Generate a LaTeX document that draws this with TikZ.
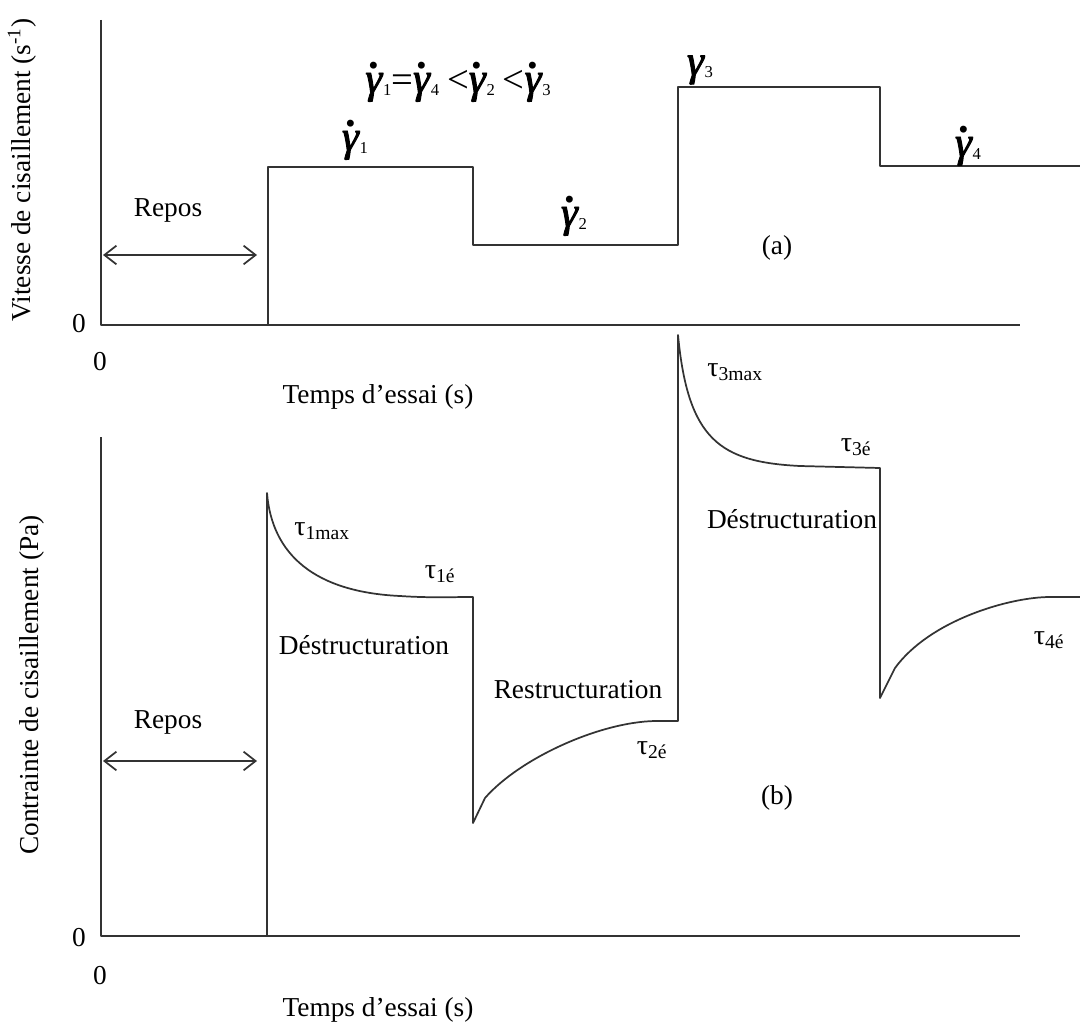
\documentclass[tikz,border=0pt]{standalone}
\usepackage{fontspec}
\setmainfont{Liberation Serif}
\newfontfamily\gfont[FakeBold=2.2]{Liberation Serif}
\usetikzlibrary{arrows.meta}
\newcommand{\gbody}{\gfont\itshape γ}
\newcommand{\gsub}[1]{\kern0.06em\raisebox{-0.4ex}{\fontsize{12.5}{12.5}\selectfont\upshape #1}}
\newcommand{\gdt}[1]{{\fontsize{32}{32}\selectfont\makebox[0pt][l]{\raisebox{0.56em}{\kern0.07em\bfseries .}}\gbody}\gsub{#1}}
\newcommand{\gnd}[1]{{\fontsize{32}{32}\selectfont\gbody}\gsub{#1}}
\newcommand{\rl}[1]{{\fontsize{29}{29}\selectfont #1}}
\begin{document}
\begin{tikzpicture}[x=0.75pt,y=-0.75pt,
  ln/.style={draw=black!80,line width=1.3pt,line join=round},
  lab/.style={font=\fontsize{20.5}{24}\selectfont,inner sep=0pt},
  glab/.style={inner sep=0pt},
  tlab/.style={font=\fontsize{21}{24}\selectfont,inner sep=0pt},
  dbl/.style={draw=black!80,line width=1.3pt,{Straight Barb[length=9pt,width=14pt,line width=1.3pt]}-{Straight Barb[length=9pt,width=14pt,line width=1.3pt]}}]
\useasboundingbox (0,0) rectangle (1080,1027);
% ---------- (a) ----------
\coordinate (ya) at (101,20);
\coordinate (oa) at (101,325);
\coordinate (xa) at (1020,325);
\draw[ln] (ya) -- (oa) -- (xa);
\draw[ln] (268,325) -- (268,167) -- (473,167) -- (473,245) -- (678,245) -- (678,87) -- (880,87) -- (880,166) -- (1080,166);
\coordinate (ra1) at (103,255);
\coordinate (ra2) at (257,255);
\draw[dbl] (ra1) -- (ra2);
\node[lab,rotate=90] (vt) at (22,170) {Vitesse de cisaillement (s\textsuperscript{-1})};
\node[lab] (za) at (79,324) {0};
\node[lab] (zb) at (100,362) {0};
\node[lab] (ta) at (378,397) {Temps d’essai (s)};
\node[lab] (rpa) at (168,210) {Repos};
\node[lab] (aa) at (777,248) {(a)};
\node[glab] (g1) at (355,140) {\gdt{1}};
\node[glab] (g2) at (574,216) {\gdt{2}};
\node[glab] (g3) at (700,70) {\gnd{3}};
\node[glab] (g4) at (968,146) {\gdt{4}};
\node[glab] (rel) at (458,82) {\gdt{1}\rl{=}\gdt{4}\kern6pt\rl{<}\gdt{2}\kern6pt\rl{<}\gdt{3}};
% ---------- (b) ----------
\coordinate (yb) at (101,437);
\coordinate (ob) at (101,936);
\coordinate (xb) at (1020,936);
\draw[ln] (yb) -- (ob) -- (xb);
\draw[ln] (267,936) -- (267,493)
  .. controls (272,555) and (315,592) .. (400,596)
  .. controls (430,598) and (450,597) .. (473,597)
  -- (473,823) -- (485,798)
  .. controls (520,758) and (600,722) .. (655,721) -- (678,721)
  -- (678,335)
  .. controls (688,440) and (720,462) .. (800,466) -- (880,468)
  -- (880,698) -- (895,668)
  .. controls (930,620) and (1010,597) .. (1050,597) -- (1080,597);
\coordinate (rb1) at (103,761);
\coordinate (rb2) at (257,761);
\draw[dbl] (rb1) -- (rb2);
\node[lab,rotate=90] (ct) at (32,685) {Contrainte de cisaillement (Pa)};
\node[lab] (zc) at (79,938) {0};
\node[lab] (zd) at (100,976) {0};
\node[lab] (tb) at (378,1010) {Temps d’essai (s)};
\node[lab] (rpb) at (168,722) {Repos};
\node[lab] (bb) at (777,798) {(b)};
\node[lab] (d1) at (364,645) {Déstructuration};
\node[lab] (rs) at (578,690) {Restructuration};
\node[lab] (d2) at (792,519) {Déstructuration};
\node[tlab] (t1m) at (322,531) {τ\textsubscript{1max}};
\node[tlab] (t1e) at (440,574) {τ\textsubscript{1é}};
\node[tlab] (t2e) at (652,750) {τ\textsubscript{2é}};
\node[tlab] (t3m) at (735,372) {τ\textsubscript{3max}};
\node[tlab] (t3e) at (856,447) {τ\textsubscript{3é}};
\node[tlab] (t4e) at (1049,640) {τ\textsubscript{4é}};
\end{tikzpicture}
\end{document}
